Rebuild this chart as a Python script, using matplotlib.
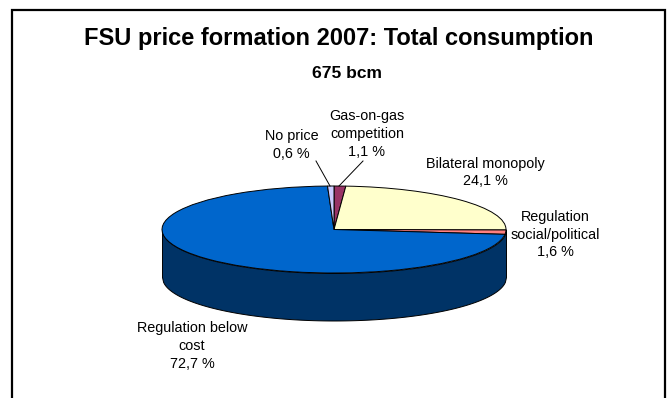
import numpy as np
import matplotlib
matplotlib.use("Agg")
import matplotlib.pyplot as plt
from matplotlib.patches import Rectangle

plt.rcParams["font.family"] = "Liberation Sans"

labels = ["Gas-on-gas\ncompetition\n1,1 %", "Bilateral monopoly\n24,1 %",
          "Regulation\nsocial/political\n1,6 %", "Regulation below\ncost\n72,7 %",
          "No price\n0,6 %"]
values = [1.1, 24.1, 1.6, 72.7, 0.6]
colors = ["#993366", "#FFFFCC", "#FF8080", "#0066CC", "#CCCCFF"]
side_color = "#003366"

W, H = 670, 398
fig = plt.figure(figsize=(W / 100, H / 100), dpi=100)

# page overlay in pixels, y going down
bg = fig.add_axes([0, 0, 1, 1])
bg.set_xlim(0, W)
bg.set_ylim(H, 0)
bg.axis("off")
# frame runs off the bottom of the image
bg.add_patch(Rectangle((11.5, 10), 653.5, 420, fc="white", ec="black", lw=1.6))

# pie axes: one data unit = rx horizontally, ry vertically
cx, cy, rx, ry, depth = 334, 229.5, 172, 43.5, 47.5
ax = fig.add_axes([0, 0, 1, 1])
ax.patch.set_alpha(0)
ax.pie(values, colors=colors, startangle=90, counterclock=False, radius=1,
       wedgeprops={"edgecolor": "black", "linewidth": 0.7})
ax.set_aspect("auto")
ax.set_xlim(-cx / rx, (W - cx) / rx)
ax.set_ylim((cy - H) / ry, cy / ry)
ax.axis("off")

# side wall under the front half of the ellipse
d = depth / ry
x = np.linspace(-1, 1, 300)
lower = -np.sqrt(1 - x ** 2)
ax.fill_between(x, lower, lower - d, color=side_color, ec="black", lw=0.7, zorder=0.5)

# labels, leader lines
top = fig.add_axes([0, 0, 1, 1])
top.patch.set_alpha(0)
top.set_xlim(0, W)
top.set_ylim(H, 0)
top.axis("off")
top.plot([330, 316], [186, 161], color="black", lw=0.7)
top.plot([339, 363], [186, 161], color="black", lw=0.7)
fs = 10.4
ls = 1.33
top.text(291.5, 145, labels[4], ha="center", va="center", fontsize=fs, linespacing=ls)
top.text(367, 134, labels[0], ha="center", va="center", fontsize=fs, linespacing=ls)
top.text(485.5, 172.5, labels[1], ha="center", va="center", fontsize=fs, linespacing=ls)
top.text(555.5, 234.5, labels[2], ha="center", va="center", fontsize=fs, linespacing=ls)
top.text(192, 346, labels[3], ha="center", va="center", fontsize=fs, linespacing=ls)

top.text(338.5, 39, "FSU price formation 2007: Total consumption", ha="center", va="center",
         fontsize=17, fontweight="bold")
top.text(347.5, 74, "675 bcm", ha="center", va="center", fontsize=12.6, fontweight="bold")

fig.savefig("out.png", dpi=100)
